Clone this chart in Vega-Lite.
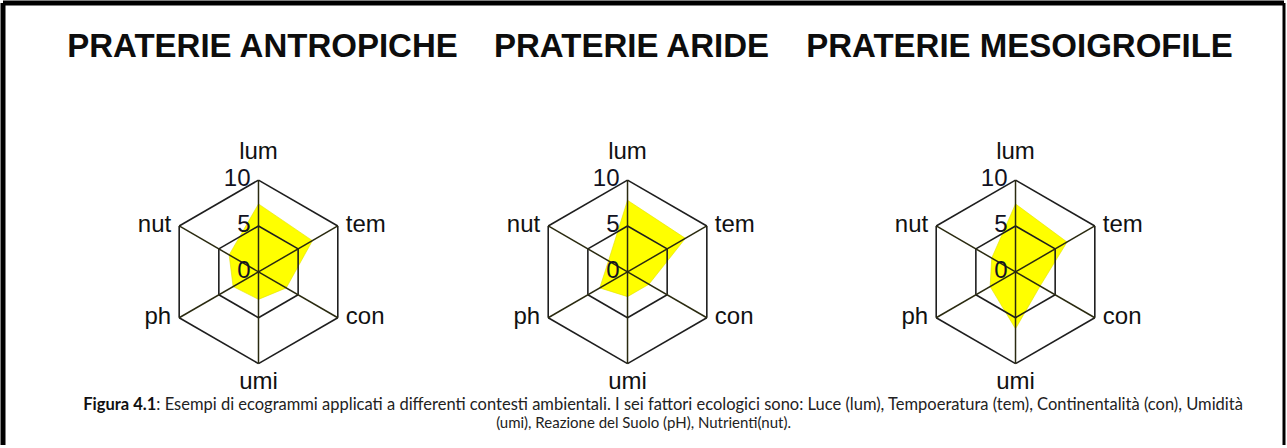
{
  "$schema": "https://vega.github.io/schema/vega-lite/v6.json",
  "width": 1287,
  "height": 448,
  "autosize": {"type": "fit", "contains": "padding"},
  "padding": 0,
  "background": "white",
  "config": {"view": {"stroke": null}},
  "datasets": {
    "eco": [
      {"chart": "PRATERIE ANTROPICHE", "factor": "lum", "k": 0, "value": 7.4},
      {"chart": "PRATERIE ANTROPICHE", "factor": "tem", "k": 1, "value": 6.8},
      {"chart": "PRATERIE ANTROPICHE", "factor": "con", "k": 2, "value": 3.5},
      {"chart": "PRATERIE ANTROPICHE", "factor": "umi", "k": 3, "value": 3.0},
      {"chart": "PRATERIE ANTROPICHE", "factor": "ph", "k": 4, "value": 3.2},
      {"chart": "PRATERIE ANTROPICHE", "factor": "nut", "k": 5, "value": 3.7},
      {"chart": "PRATERIE ARIDE", "factor": "lum", "k": 0, "value": 7.8},
      {"chart": "PRATERIE ARIDE", "factor": "tem", "k": 1, "value": 7.3},
      {"chart": "PRATERIE ARIDE", "factor": "con", "k": 2, "value": 2.7},
      {"chart": "PRATERIE ARIDE", "factor": "umi", "k": 3, "value": 2.7},
      {"chart": "PRATERIE ARIDE", "factor": "ph", "k": 4, "value": 3.5},
      {"chart": "PRATERIE ARIDE", "factor": "nut", "k": 5, "value": 2.4},
      {"chart": "PRATERIE MESOIGROFILE", "factor": "lum", "k": 0, "value": 7.4},
      {"chart": "PRATERIE MESOIGROFILE", "factor": "tem", "k": 1, "value": 6.5},
      {"chart": "PRATERIE MESOIGROFILE", "factor": "con", "k": 2, "value": 3.1},
      {"chart": "PRATERIE MESOIGROFILE", "factor": "umi", "k": 3, "value": 6.2},
      {"chart": "PRATERIE MESOIGROFILE", "factor": "ph", "k": 4, "value": 3.2},
      {"chart": "PRATERIE MESOIGROFILE", "factor": "nut", "k": 5, "value": 3.0}
    ],
    "ticks": [
      {"chart": "PRATERIE ANTROPICHE", "tick": 0},
      {"chart": "PRATERIE ANTROPICHE", "tick": 5},
      {"chart": "PRATERIE ANTROPICHE", "tick": 10},
      {"chart": "PRATERIE ARIDE", "tick": 0},
      {"chart": "PRATERIE ARIDE", "tick": 5},
      {"chart": "PRATERIE ARIDE", "tick": 10},
      {"chart": "PRATERIE MESOIGROFILE", "tick": 0},
      {"chart": "PRATERIE MESOIGROFILE", "tick": 5},
      {"chart": "PRATERIE MESOIGROFILE", "tick": 10}
    ]
  },
  "layer": [
    {
      "data": {"name": "eco"},
      "transform": [
        {"calculate": "[0, 40.30, 82.67][indexof(['PRATERIE ANTROPICHE','PRATERIE ARIDE','PRATERIE MESOIGROFILE'], datum.chart)]", "as": "cx"},
        {"calculate": "datum.k * PI / 3", "as": "a"},
        {"calculate": "(datum.k + 1) * PI / 3", "as": "a2"},
        {"calculate": "datum.cx + 10 * sin(datum.a)", "as": "x1"},
        {"calculate": "10 * cos(datum.a)", "as": "y1"},
        {"calculate": "datum.cx + 10 * sin(datum.a2)", "as": "x2"},
        {"calculate": "10 * cos(datum.a2)", "as": "y2"},
        {"calculate": "datum.cx + 5 * sin(datum.a)", "as": "h1"},
        {"calculate": "5 * cos(datum.a)", "as": "v1"},
        {"calculate": "datum.cx + 5 * sin(datum.a2)", "as": "h2"},
        {"calculate": "5 * cos(datum.a2)", "as": "v2"},
        {"calculate": "0", "as": "cy"},
        {"calculate": "datum.cx + datum.value * sin(datum.a)", "as": "px"},
        {"calculate": "datum.value * cos(datum.a)", "as": "py"}
      ],
      "layer": [
        {
          "mark": {"type": "line", "interpolate": "linear-closed", "fill": "#ffff00", "fillOpacity": 1, "stroke": "#e0e000", "strokeWidth": 0.6},
          "encoding": {
            "x": {"field": "px", "type": "quantitative", "scale": {"domain": [-27.9, 111.99], "nice": false, "zero": false}, "axis": null},
            "y": {"field": "py", "type": "quantitative", "scale": {"domain": [-18.87, 29.3], "nice": false, "zero": false}, "axis": null},
            "order": {"field": "k", "type": "quantitative"},
            "detail": {"field": "chart"}
          }
        },
        {
          "mark": {"type": "rule", "stroke": "#1e1e1e", "strokeWidth": 1.6},
          "encoding": {
            "x": {"field": "x1", "type": "quantitative"},
            "y": {"field": "y1", "type": "quantitative"},
            "x2": {"field": "x2"},
            "y2": {"field": "y2"}
          }
        },
        {
          "mark": {"type": "rule", "stroke": "#1e1e1e", "strokeWidth": 1.6},
          "encoding": {
            "x": {"field": "h1", "type": "quantitative"},
            "y": {"field": "v1", "type": "quantitative"},
            "x2": {"field": "h2"},
            "y2": {"field": "v2"}
          }
        },
        {
          "mark": {"type": "rule", "stroke": "#2a2a10", "strokeWidth": 1.5},
          "encoding": {
            "x": {"field": "cx", "type": "quantitative"},
            "y": {"field": "cy", "type": "quantitative"},
            "x2": {"field": "x1"},
            "y2": {"field": "y1"}
          }
        },
        {
          "transform": [{"filter": "datum.k == 0"}],
          "mark": {"type": "text", "font": "Liberation Sans", "fontSize": 24, "align": "center", "baseline": "alphabetic", "dy": -21, "color": "#111111"},
          "encoding": {
            "x": {"field": "x1", "type": "quantitative"},
            "y": {"field": "y1", "type": "quantitative"},
            "text": {"field": "factor"}
          }
        },
        {
          "transform": [{"filter": "datum.k == 3"}],
          "mark": {"type": "text", "font": "Liberation Sans", "fontSize": 24, "align": "center", "baseline": "alphabetic", "dy": 25, "color": "#111111"},
          "encoding": {
            "x": {"field": "x1", "type": "quantitative"},
            "y": {"field": "y1", "type": "quantitative"},
            "text": {"field": "factor"}
          }
        },
        {
          "transform": [{"filter": "datum.k == 1 || datum.k == 2"}],
          "mark": {"type": "text", "font": "Liberation Sans", "fontSize": 24, "align": "left", "baseline": "alphabetic", "dx": 8, "dy": 6, "color": "#111111"},
          "encoding": {
            "x": {"field": "x1", "type": "quantitative"},
            "y": {"field": "y1", "type": "quantitative"},
            "text": {"field": "factor"}
          }
        },
        {
          "transform": [{"filter": "datum.k == 4 || datum.k == 5"}],
          "mark": {"type": "text", "font": "Liberation Sans", "fontSize": 24, "align": "right", "baseline": "alphabetic", "dx": -8, "dy": 6, "color": "#111111"},
          "encoding": {
            "x": {"field": "x1", "type": "quantitative"},
            "y": {"field": "y1", "type": "quantitative"},
            "text": {"field": "factor"}
          }
        },
        {
          "transform": [{"filter": "datum.k == 0"}],
          "mark": {"type": "text", "font": "Liberation Sans", "fontWeight": "bold", "fontSize": 33, "align": "center", "baseline": "alphabetic", "dx": 4, "color": "#0d0d0d"},
          "encoding": {
            "x": {"field": "cx", "type": "quantitative"},
            "y": {"datum": 23.4, "type": "quantitative"},
            "text": {"field": "chart"}
          }
        }
      ]
    },
    {
      "data": {"name": "ticks"},
      "transform": [
        {"calculate": "[0, 40.30, 82.67][indexof(['PRATERIE ANTROPICHE','PRATERIE ARIDE','PRATERIE MESOIGROFILE'], datum.chart)]", "as": "cx"}
      ],
      "mark": {"type": "text", "font": "Liberation Sans", "fontSize": 24, "align": "right", "baseline": "alphabetic", "dx": -8, "dy": 6, "color": "#111122"},
      "encoding": {
        "x": {"field": "cx", "type": "quantitative"},
        "y": {"field": "tick", "type": "quantitative"},
        "text": {"field": "tick", "type": "quantitative"}
      }
    },
    {
      "data": {"values": [{}]},
      "layer": [
        {
          "mark": {"type": "text", "text": "Figura 4.1", "font": "Lato", "fontWeight": "bold", "fontSize": 16.5, "align": "right", "baseline": "alphabetic", "color": "#111111"},
          "encoding": {
            "x": {"datum": -11.16, "type": "quantitative"},
            "y": {"datum": -15.11, "type": "quantitative"}
          }
        },
        {
          "mark": {"type": "text", "text": ": Esempi di ecogrammi applicati a differenti contesti ambientali. I sei fattori ecologici sono: Luce (lum), Tempoeratura (tem), Continentalità (con), Umidità", "font": "Lato", "fontSize": 16.5, "align": "left", "baseline": "alphabetic", "color": "#222222"},
          "encoding": {
            "x": {"datum": -11.16, "type": "quantitative"},
            "y": {"datum": -15.11, "type": "quantitative"}
          }
        },
        {
          "mark": {"type": "text", "text": "(umi), Reazione del Suolo (pH), Nutrienti(nut).", "font": "Lato", "fontSize": 15, "align": "center", "baseline": "alphabetic", "color": "#222222"},
          "encoding": {
            "x": {"datum": 42.05, "type": "quantitative"},
            "y": {"datum": -17.04, "type": "quantitative"}
          }
        },
        {
          "mark": {"type": "rule", "stroke": "#000000", "strokeWidth": 5},
          "encoding": {
            "x": {"datum": -27.9, "type": "quantitative"},
            "x2": {"datum": 111.99},
            "y": {"datum": 29.3, "type": "quantitative"}
          }
        },
        {
          "mark": {"type": "rule", "stroke": "#000000", "strokeWidth": 5},
          "encoding": {
            "x": {"datum": -27.9, "type": "quantitative"},
            "y": {"datum": -18.87, "type": "quantitative"},
            "y2": {"datum": 29.3}
          }
        },
        {
          "mark": {"type": "rule", "stroke": "#000000", "strokeWidth": 3},
          "encoding": {
            "x": {"datum": 111.99, "type": "quantitative"},
            "y": {"datum": -18.87, "type": "quantitative"},
            "y2": {"datum": 29.3}
          }
        }
      ]
    }
  ]
}
